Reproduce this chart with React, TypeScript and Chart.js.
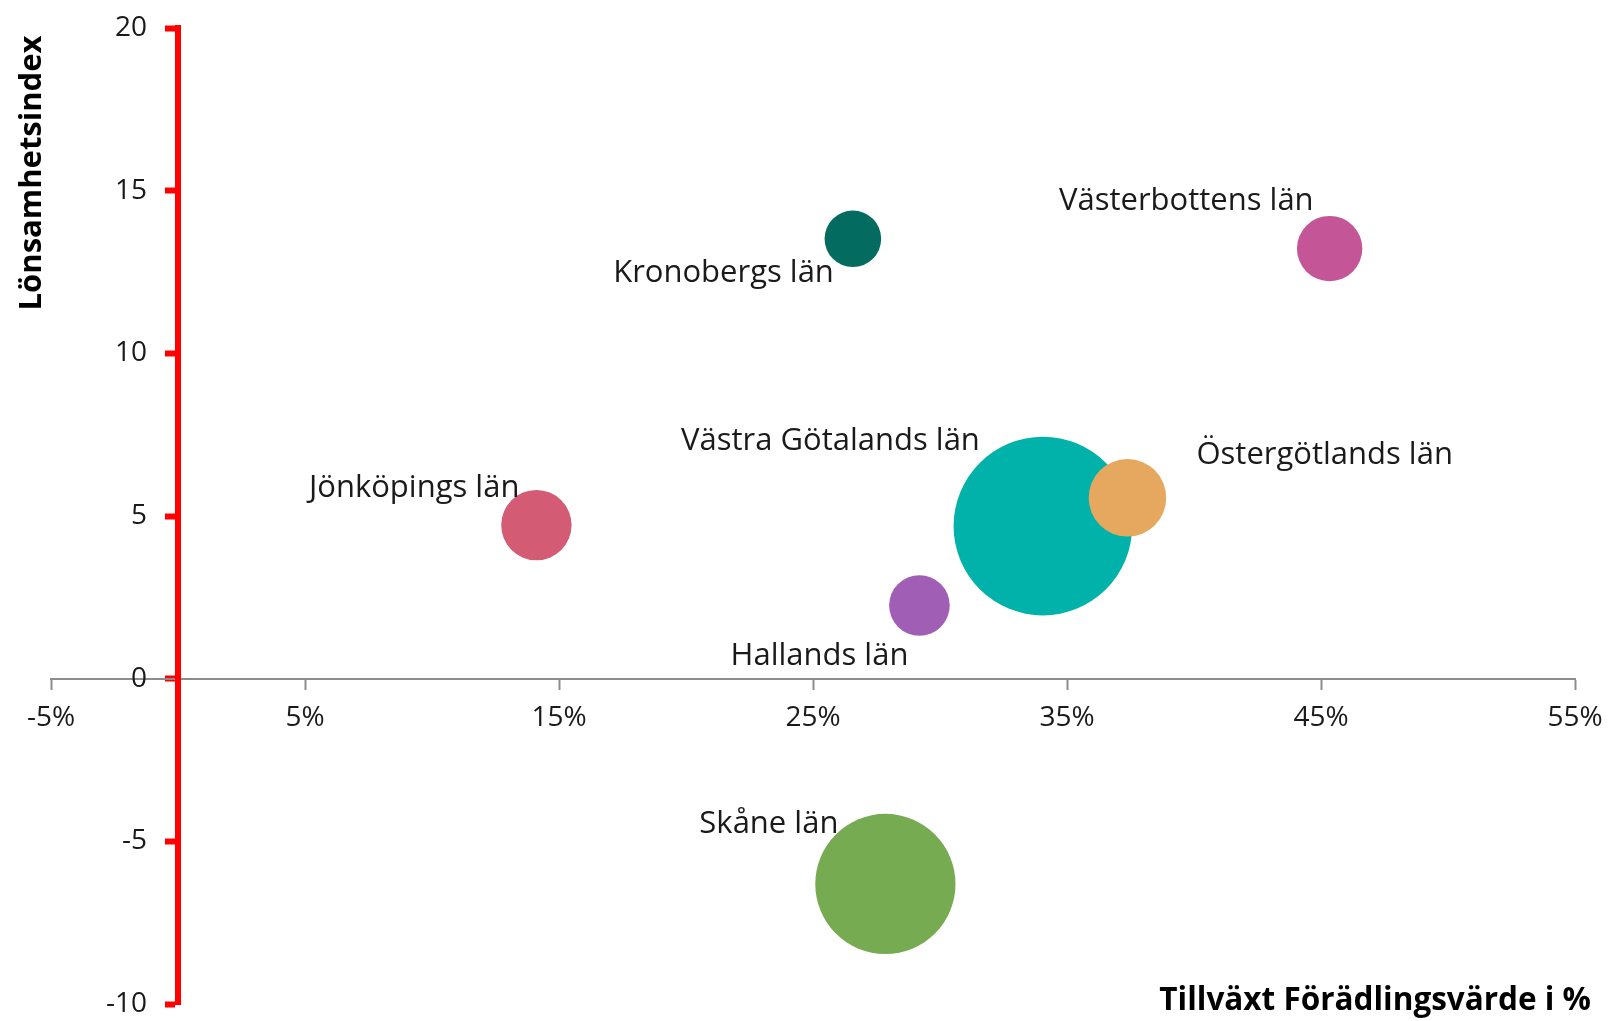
import React, { useEffect, useRef } from "react";
import { Chart, registerables } from "chart.js";

Chart.register(...registerables);

// ---- Data ----
const regions = [
  "Kronobergs län",
  "Västerbottens län",
  "Västra Götalands län",
  "Östergötlands län",
  "Jönköpings län",
  "Hallands län",
  "Skåne län",
];
const growthPct = [26.57, 45.34, 34.05, 37.38, 14.11, 29.19, 27.85];
const profitabilityIndex = [13.52, 13.22, 4.69, 5.56, 4.72, 2.25, -6.31];
const bubbleSize = [28.3, 32.7, 89.3, 38.8, 35.2, 30.3, 70.1];
const bubbleColors = ["#036B60", "#C45698", "#00B2A9", "#E5A85E", "#D35B73", "#A05FB5", "#76AB51"];
const xTickValues = [-5, 5, 15, 25, 35, 45, 55];
const yTickValues = [-10, -5, 0, 5, 10, 15, 20];
const xTitle = "Tillväxt Förädlingsvärde i %";
const yTitle = "Lönsamhetsindex";

// label placement relative to bubble centre: [textAlign, dx, dy(baseline)]
const labelPlacement: [CanvasTextAlign, number, number][] = [
  ["right", -19, 43],
  ["right", -16, -39],
  ["right", -63, -76],
  ["left", 69, -34],
  ["right", -17, -28],
  ["right", -11, 60],
  ["right", -47, -51],
];

const FONT = "'Open Sans', Lato, sans-serif";

const labelsPlugin = {
  id: "bubbleLabels",
  afterDatasetsDraw(chart: any) {
    const meta = chart.getDatasetMeta(0);
    const ctx = chart.ctx;
    ctx.save();
    ctx.font = `31px ${FONT}`;
    ctx.fillStyle = "#1a1a1a";
    ctx.textBaseline = "alphabetic";
    meta.data.forEach((el: any, i: number) => {
      const [align, dx, dy] = labelPlacement[i];
      ctx.textAlign = align;
      ctx.fillText(regions[i], el.x + dx, el.y + dy);
    });
    ctx.restore();
  },
};

// shift y tick labels away from the centred axis line
const yLabelShiftPlugin = {
  id: "yLabelShift",
  beforeDraw(chart: any) {
    const s = chart.scales.y;
    const items = s.getLabelItems(chart.chartArea);
    items.forEach((it: any) => {
      if (!it._shifted) {
        it.options.translation[0] -= 31;
        it._shifted = true;
      }
    });
  },
};

const titlesPlugin = {
  id: "axisTitles",
  afterDraw(chart: any) {
    const ctx = chart.ctx;
    ctx.save();
    ctx.fillStyle = "#000";
    ctx.textBaseline = "alphabetic";
    ctx.font = `bold 31.5px ${FONT}`;
    ctx.textAlign = "right";
    ctx.fillText(xTitle, chart.width - 20, chart.height - 11);
    ctx.font = `bold 31px ${FONT}`;
    ctx.translate(41, 173);
    ctx.rotate(-Math.PI / 2);
    ctx.textAlign = "center";
    ctx.fillText(yTitle, 0, 0);
    ctx.restore();
  },
};

const zeroPad = (s: any) => {
  s.paddingLeft = 0;
  s.paddingRight = 0;
  s.paddingTop = 0;
  s.paddingBottom = 0;
};

export default function App() {
  const ref = useRef<HTMLCanvasElement | null>(null);

  useEffect(() => {
    if (!ref.current) return;
    const chart = new Chart(ref.current, {
      type: "bubble",
      data: {
        datasets: [
          {
            label: "Län",
            data: regions.map((_, i) => ({
              x: growthPct[i],
              y: profitabilityIndex[i],
              r: bubbleSize[i],
            })),
            backgroundColor: bubbleColors,
            borderWidth: 0,
            hoverBorderWidth: 0,
            hoverRadius: 0,
            clip: false as any,
          },
        ],
      },
      options: {
        animation: false,
        responsive: false,
        maintainAspectRatio: false,
        events: [],
        layout: { autoPadding: false, padding: { left: 51, right: 36, top: 28, bottom: 17 } },
        plugins: {
          legend: { display: false },
          tooltip: { enabled: false },
        },
        scales: {
          x: {
            type: "linear",
            min: -5,
            max: 55,
            position: { y: 0 } as any,
            afterBuildTicks: (s: any) => {
              s.ticks = xTickValues.map((v) => ({ value: v }));
            },
            afterFit: (s: any) => {
              s.height = 0;
              zeroPad(s);
            },
            grid: {
              display: true,
              drawOnChartArea: false,
              drawTicks: true,
              tickLength: 10,
              tickColor: "#8C8C8C",
              tickWidth: 2,
            },
            border: { display: true, color: "#8C8C8C", width: 2 },
            ticks: {
              callback: (v: any) => `${v}%`,
              font: { family: FONT, size: 28 },
              color: "#1a1a1a",
              padding: 13,
              maxRotation: 0,
              autoSkip: false,
            },
          },
          y: {
            type: "linear",
            min: -10,
            max: 20,
            position: { x: 0 } as any,
            afterBuildTicks: (s: any) => {
              s.ticks = yTickValues.map((v) => ({ value: v }));
            },
            afterFit: (s: any) => {
              s.width = 0;
              zeroPad(s);
            },
            grid: {
              display: true,
              drawOnChartArea: false,
              drawTicks: true,
              tickLength: 10,
              tickColor: "#FF0000",
              tickWidth: 6,
            },
            border: { display: true, color: "#FF0000", width: 6 },
            ticks: {
              font: { family: FONT, size: 28 },
              color: "#1a1a1a",
              padding: 0,
              autoSkip: false,
            },
          },
        },
      },
      plugins: [yLabelShiftPlugin, labelsPlugin, titlesPlugin],
    });
    return () => chart.destroy();
  }, []);

  return (
    <div style={{ position: "fixed", left: 0, top: 0, width: 1611, height: 1021, background: "#fff" }}>
      <canvas ref={ref} width={1611} height={1021} style={{ width: 1611, height: 1021, display: "block" }} />
    </div>
  );
}
